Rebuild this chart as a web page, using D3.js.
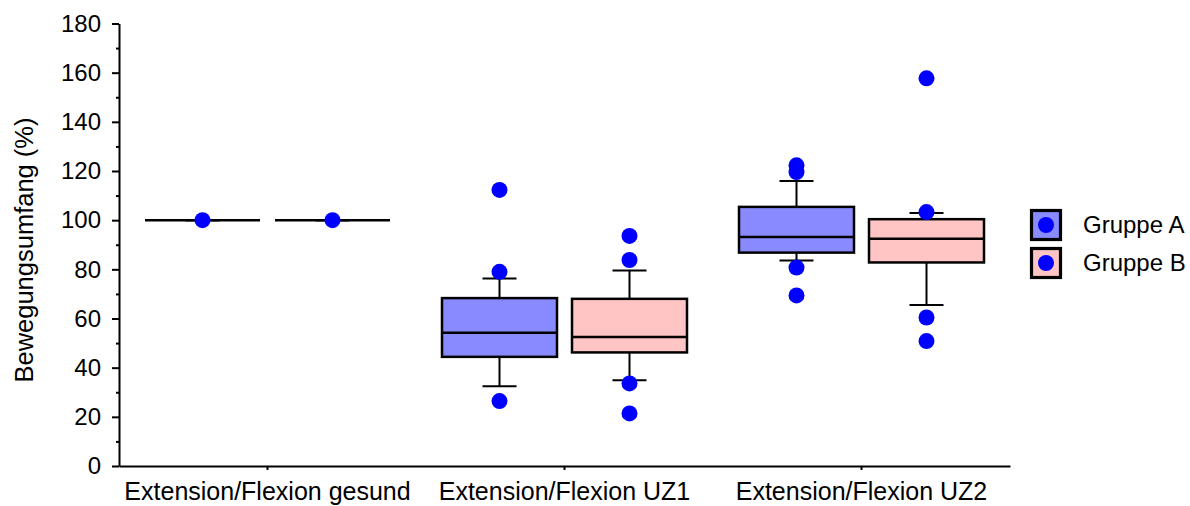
<!DOCTYPE html>
<html>
<head>
<meta charset="utf-8">
<script src="https://cdn.jsdelivr.net/npm/d3@7"></script>
<style>
  html, body { margin: 0; padding: 0; background: #fff; }
  svg { display: block; font-family: "Liberation Sans", Arial, sans-serif; }
</style>
</head>
<body>
<svg id="chart" width="1190" height="506"></svg>
<script>
// Categories and groups
const categories = ["Extension/Flexion gesund", "Extension/Flexion UZ1", "Extension/Flexion UZ2"];
const groups = ["Gruppe A", "Gruppe B"];
const yTicks = [0, 20, 40, 60, 80, 100, 120, 140, 160, 180];

// Box statistics per category (Gruppe A)
const lowA    = [100, 32.4, 83.6];
const q1A     = [100, 44.4, 86.8];
const medianA = [100, 54.2, 93.2];
const q3A     = [100, 68.3, 105.4];
const highA   = [100, 76.3, 115.9];
const pointsA = [[100], [112.3, 79.0, 26.4], [122.3, 119.6, 80.7, 69.4]];

// Box statistics per category (Gruppe B)
const lowB    = [100, 34.9, 65.5];
const q1B     = [100, 46.2, 82.8];
const medianB = [100, 52.5, 92.4];
const q3B     = [100, 68.0, 100.4];
const highB   = [100, 79.5, 102.9];
const pointsB = [[100], [93.6, 83.8, 33.6, 21.4], [157.7, 103.3, 60.4, 50.8]];

const fills = { "Gruppe A": "#8a8aff", "Gruppe B": "#ffc4c4" };
const dotColor = "#0000ff";

// Assemble one record per box
const boxes = [];
categories.forEach((cat, i) => {
  boxes.push({ cat, group: groups[0], low: lowA[i], q1: q1A[i], med: medianA[i], q3: q3A[i], high: highA[i], pts: pointsA[i] });
  boxes.push({ cat, group: groups[1], low: lowB[i], q1: q1B[i], med: medianB[i], q3: q3B[i], high: highB[i], pts: pointsB[i] });
});

const svg = d3.select("#chart");
const plotLeft = 119, plotRight = 1010, plotTop = 23.5, plotBottom = 466;

const x = d3.scaleBand().domain(categories).range([plotLeft, plotRight]);
const xg = d3.scaleBand().domain(groups).range([-130, 130]);
const y = d3.scaleLinear().domain([0, 180]).range([plotBottom, plotTop]);

const boxW = 115, capW = 34;

// Minor y ticks
svg.append("g")
  .attr("transform", `translate(${plotLeft},0)`)
  .call(d3.axisLeft(y).tickValues(d3.range(10, 180, 20)).tickSize(3).tickFormat(""))
  .call(g => g.select(".domain").remove())
  .call(g => g.selectAll("line").attr("stroke", "#000").attr("stroke-width", 2));

// Major y axis
svg.append("g")
  .attr("transform", `translate(${plotLeft},0)`)
  .call(d3.axisLeft(y).tickValues(yTicks).tickSize(7).tickPadding(11).tickSizeOuter(0))
  .call(g => g.select(".domain").attr("stroke", "#000").attr("stroke-width", 2))
  .call(g => g.selectAll("line").attr("stroke", "#000").attr("stroke-width", 2))
  .call(g => g.selectAll("text").attr("font-size", 24).attr("fill", "#000")
    .attr("font-family", "'Liberation Sans', Arial, sans-serif"));

// X axis
svg.append("g")
  .attr("transform", `translate(0,${plotBottom})`)
  .call(d3.axisBottom(x).tickSize(4).tickPadding(12).tickSizeOuter(0))
  .call(g => g.select(".domain").attr("stroke", "#000").attr("stroke-width", 2))
  .call(g => g.selectAll("line").attr("stroke", "#000").attr("stroke-width", 2))
  .call(g => g.selectAll("text").attr("font-size", 25).attr("fill", "#000")
    .attr("font-family", "'Liberation Sans', Arial, sans-serif"));

// Y axis title
svg.append("text")
  .attr("transform", "translate(33,250) rotate(-90)")
  .attr("text-anchor", "middle")
  .attr("font-size", 25.5)
  .attr("fill", "#000")
  .text("Bewegungsumfang (%)");

// Boxes
const bx = svg.append("g").selectAll("g").data(boxes).join("g")
  .attr("transform", d => `translate(${x(d.cat) + x.bandwidth() / 2 + xg(d.group) + xg.bandwidth() / 2},0)`);

// Whiskers
bx.append("line").attr("x1", 0).attr("x2", 0)
  .attr("y1", d => y(d.high)).attr("y2", d => y(d.q3))
  .attr("stroke", "#000").attr("stroke-width", 2);
bx.append("line").attr("x1", 0).attr("x2", 0)
  .attr("y1", d => y(d.q1)).attr("y2", d => y(d.low))
  .attr("stroke", "#000").attr("stroke-width", 2);
bx.append("line").attr("x1", -capW / 2).attr("x2", capW / 2)
  .attr("y1", d => y(d.high)).attr("y2", d => y(d.high))
  .attr("stroke", "#000").attr("stroke-width", 2);
bx.append("line").attr("x1", -capW / 2).attr("x2", capW / 2)
  .attr("y1", d => y(d.low)).attr("y2", d => y(d.low))
  .attr("stroke", "#000").attr("stroke-width", 2);

// Box body
bx.filter(d => d.q3 > d.q1).append("rect")
  .attr("x", -boxW / 2).attr("width", boxW)
  .attr("y", d => y(d.q3)).attr("height", d => y(d.q1) - y(d.q3))
  .attr("fill", d => fills[d.group])
  .attr("stroke", "#000").attr("stroke-width", 2.5);

// Median
bx.append("line").attr("x1", -boxW / 2).attr("x2", boxW / 2)
  .attr("y1", d => y(d.med)).attr("y2", d => y(d.med))
  .attr("stroke", "#000").attr("stroke-width", 2.5);

// Individual points
bx.selectAll("circle").data(d => d.pts).join("circle")
  .attr("cx", 0).attr("cy", v => y(v)).attr("r", 8)
  .attr("fill", dotColor);

// Legend
const legend = svg.append("g").selectAll("g").data(groups).join("g")
  .attr("transform", (d, i) => `translate(1030,${209 + i * 38})`);
legend.append("rect")
  .attr("x", 1.5).attr("y", 1.5).attr("width", 29).attr("height", 29)
  .attr("fill", d => fills[d]).attr("stroke", "#000").attr("stroke-width", 3.2);
legend.append("circle").attr("cx", 16).attr("cy", 16).attr("r", 8).attr("fill", dotColor);
legend.append("text")
  .attr("x", 53).attr("y", 16).attr("dy", "0.35em")
  .attr("font-size", 24).attr("fill", "#000")
  .text(d => d);
</script>
</body>
</html>
